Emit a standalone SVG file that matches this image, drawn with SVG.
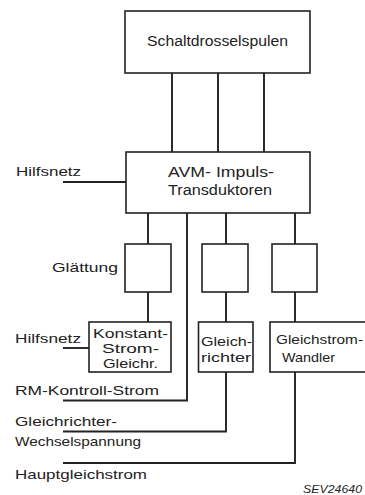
<svg xmlns="http://www.w3.org/2000/svg" width="365" height="495" viewBox="0 0 365 495">
<style>
.box{fill:#fff;stroke:#222;stroke-width:1.6}
.ln{fill:none;stroke:#222;stroke-width:1.9}
text{font-family:"Liberation Sans","DejaVu Sans",sans-serif;fill:#222;font-size:13px}
.big{font-size:14px}
.sev{font-size:11px;font-style:italic}
</style>
<rect width="365" height="495" fill="#fff"/>
<g id="connectors">
<path class="ln" d="M172 73V152M218 73V152M264 73V152"/>
<path class="ln" d="M63 182H126"/>
<path class="ln" d="M148 213V244M226 213V244M295 213V244"/>
<path class="ln" d="M148 292V322M226 292V322M295 292V322"/>
<path class="ln" d="M63 348H89"/>
<path class="ln" d="M187 213V400.5H63"/>
<path class="ln" d="M226 372V431.5H63"/>
<path class="ln" d="M295 372V463H63"/>
</g>
<g id="schaltdrosselspulen">
<rect class="box" x="125" y="11" width="185" height="62"/>
<text class="big" x="147" y="45.5" textLength="141" lengthAdjust="spacingAndGlyphs">Schaltdrosselspulen</text>
</g>
<g id="avm">
<rect class="box" x="126" y="152" width="184" height="61"/>
<text class="big" x="168" y="176.5" textLength="106" lengthAdjust="spacingAndGlyphs">AVM- Impuls-</text>
<text class="big" x="168" y="195" textLength="104" lengthAdjust="spacingAndGlyphs">Transduktoren</text>
</g>
<g id="glaettung">
<rect class="box" x="125" y="244" width="46" height="48"/>
</g>
<g id="box-mid">
<rect class="box" x="202" y="244" width="46" height="48"/>
</g>
<g id="box-right">
<rect class="box" x="272" y="244" width="45" height="48"/>
</g>
<g id="konstant">
<rect class="box" x="89" y="322" width="82" height="50"/>
<text x="93" y="338" textLength="75" lengthAdjust="spacingAndGlyphs">Konstant-</text>
<text x="102" y="353" textLength="57" lengthAdjust="spacingAndGlyphs">Strom-</text>
<text x="103" y="368" textLength="55" lengthAdjust="spacingAndGlyphs">Gleichr.</text>
</g>
<g id="gleichrichter">
<rect class="box" x="198.5" y="322" width="54.5" height="50"/>
<text x="201" y="346" textLength="51" lengthAdjust="spacingAndGlyphs">Gleich-</text>
<text x="201" y="362" textLength="50" lengthAdjust="spacingAndGlyphs">richter</text>
</g>
<g id="wandler">
<rect class="box" x="270" y="322" width="98" height="50"/>
<text x="276" y="344" textLength="87" lengthAdjust="spacingAndGlyphs">Gleichstrom-</text>
<text x="282" y="362" textLength="53" lengthAdjust="spacingAndGlyphs">Wandler</text>
</g>
<g id="labels">
<text x="16" y="176" textLength="65" lengthAdjust="spacingAndGlyphs">Hilfsnetz</text>
<text x="52" y="271.5" textLength="66" lengthAdjust="spacingAndGlyphs">Glättung</text>
<text x="15" y="343" textLength="66" lengthAdjust="spacingAndGlyphs">Hilfsnetz</text>
<text x="15" y="395" textLength="144" lengthAdjust="spacingAndGlyphs">RM-Kontroll-Strom</text>
<text x="15" y="426" textLength="102" lengthAdjust="spacingAndGlyphs">Gleichrichter-</text>
<text x="15" y="446" textLength="126" lengthAdjust="spacingAndGlyphs">Wechselspannung</text>
<text x="15" y="479" textLength="132" lengthAdjust="spacingAndGlyphs">Hauptgleichstrom</text>
<text class="sev" x="303" y="493" textLength="59" lengthAdjust="spacingAndGlyphs">SEV24640</text>
</g>
</svg>
